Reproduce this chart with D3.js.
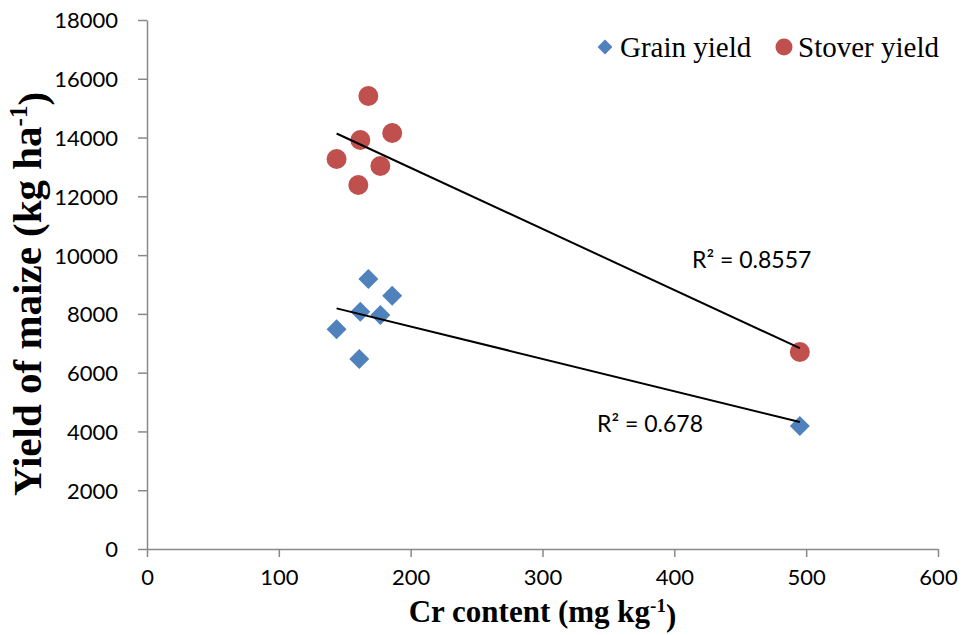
<!DOCTYPE html>
<html>
<head>
<meta charset="utf-8">
<script src="https://cdn.jsdelivr.net/npm/d3@7"></script>
<style>
  body { margin: 0; background: #fff; }
  .tick_lab { font-family: Lato, "Open Sans", sans-serif; font-size: 22px; fill: #000; }
  .ax_title { font-family: "Liberation Serif", "Times New Roman", serif; font-weight: bold; fill: #000; }
  .legend_txt { font-family: "Liberation Serif", "Times New Roman", serif; font-size: 29px; fill: #000; }
  .r2_txt { font-family: Lato, "Open Sans", sans-serif; font-size: 23px; fill: #000; }
</style>
</head>
<body>
<div id="chart"></div>
<script>

const SVG_W = 963;
const SVG_H = 635;

const M_LEFT = 147;
const M_RIGHT = 25;
const M_TOP = 20;
const M_BOTTOM = 86;

const COLOR_GRAIN = "#4F81BD";
const COLOR_STOVER = "#C0504D";
const COLOR_AXIS = "#898989";

// ---------------------------------------------------------------------------------

// Cr content (mg kg-1) per sample
const cr_grain  = [143.8, 161.8, 167.9, 186.0, 177.0, 161.0, 495.2];
const grain_yield = [7475, 8075, 9187, 8619, 7962, 6465, 4185];

const cr_stover = [143.8, 161.8, 167.9, 186.0, 177.0, 160.3, 495.2];
const stover_yield = [13270, 13916, 15413, 14155, 13032, 12385, 6703];

const x_ticks = [0, 100, 200, 300, 400, 500, 600];
const y_ticks = [0, 2000, 4000, 6000, 8000, 10000, 12000, 14000, 16000, 18000];

const r2_labels = ["R² = 0.678", "R² = 0.8557"];

// ---------------------------------------------------------------------------------

let svg = d3.select("#chart")
            .append("svg")
                .attr("width", SVG_W)
                .attr("height", SVG_H);

let scaleX = d3.scaleLinear()
                .domain([0, 600])
                .range([M_LEFT, SVG_W - M_RIGHT]);

let scaleY = d3.scaleLinear()
                .domain([0, 18000])
                .range([SVG_H - M_BOTTOM, M_TOP]);

// ---------------------------------------------------------------------------------
// axes

let axis_x = svg.append("g")
        .attr("transform", "translate(0," + scaleY(0) + ")")
        .call(d3.axisBottom(scaleX).tickValues(x_ticks).tickSize(8).tickSizeOuter(0).tickPadding(12));

let axis_y = svg.append("g")
        .attr("transform", "translate(" + scaleX(0) + ",0)")
        .call(d3.axisLeft(scaleY).tickValues(y_ticks).tickSize(9).tickSizeOuter(0).tickPadding(20)
                .tickFormat(d => d));

[axis_x, axis_y].forEach(function (g) {
    g.select(".domain").attr("stroke", COLOR_AXIS).attr("stroke-width", 1.5);
    g.selectAll(".tick line").attr("stroke", COLOR_AXIS).attr("stroke-width", 1.5);
    g.selectAll(".tick text").attr("class", "tick_lab").attr("fill", "#000");
});

axis_y.selectAll(".tick text").attr("dy", "0.36em");

// ---------------------------------------------------------------------------------
// axis titles

let title_x = svg.append("text")
        .attr("class", "ax_title")
        .attr("x", (scaleX(0) + scaleX(600)) / 2)
        .attr("y", 622)
        .attr("text-anchor", "middle")
        .style("font-size", "31px");
title_x.append("tspan").text("Cr content (mg kg");
title_x.append("tspan").attr("dy", "-0.55em").style("font-size", "19px").text("-1");
title_x.append("tspan").attr("dy", "0.45em").text(")");

let title_y = svg.append("text")
        .attr("class", "ax_title")
        .attr("transform", "translate(41,294) rotate(-90)")
        .attr("text-anchor", "middle")
        .style("font-size", "41px");
title_y.append("tspan").text("Yield of maize (kg ha");
title_y.append("tspan").attr("dy", "-0.55em").style("font-size", "25px").text("-1");
title_y.append("tspan").attr("dy", "0.45em").text(")");

// ---------------------------------------------------------------------------------
// trend lines (least squares fit)

function fit(xs, ys) {
    let mx = d3.mean(xs), my = d3.mean(ys);
    let sxy = d3.sum(xs, (x, i) => (x - mx) * (ys[i] - my));
    let sxx = d3.sum(xs, x => (x - mx) * (x - mx));
    let b = sxy / sxx;
    return { a: my - b * mx, b: b };
}

function draw_trend(xs, ys) {
    let f = fit(xs, ys);
    let x0 = d3.min(xs), x1 = d3.max(xs);
    svg.append("line")
            .attr("x1", scaleX(x0))
            .attr("y1", scaleY(f.a + f.b * x0))
            .attr("x2", scaleX(x1))
            .attr("y2", scaleY(f.a + f.b * x1))
            .attr("stroke", "#000")
            .attr("stroke-width", 2);
}

// ---------------------------------------------------------------------------------
// points

let diamond = d3.symbol().type(d3.symbolSquare).size(200);

svg.append("g")
    .selectAll("path")
    .data(cr_grain.map((x, i) => [x, grain_yield[i]]))
    .join("path")
        .attr("d", diamond)
        .attr("transform", d => "translate(" + scaleX(d[0]) + "," + scaleY(d[1]) + ") rotate(45)")
        .attr("fill", COLOR_GRAIN);

svg.append("g")
    .selectAll("circle")
    .data(cr_stover.map((x, i) => [x, stover_yield[i]]))
    .join("circle")
        .attr("cx", d => scaleX(d[0]))
        .attr("cy", d => scaleY(d[1]))
        .attr("r", 10)
        .attr("fill", COLOR_STOVER);

draw_trend(cr_grain, grain_yield);
draw_trend(cr_stover, stover_yield);

// ---------------------------------------------------------------------------------
// R² labels

svg.append("text")
        .attr("class", "r2_txt")
        .attr("x", 597)
        .attr("y", 432)
        .text(r2_labels[0]);

svg.append("text")
        .attr("class", "r2_txt")
        .attr("x", 692)
        .attr("y", 268)
        .text(r2_labels[1]);

// ---------------------------------------------------------------------------------
// legend

svg.append("path")
        .attr("d", d3.symbol().type(d3.symbolSquare).size(110))
        .attr("transform", "translate(605,47) rotate(45)")
        .attr("fill", COLOR_GRAIN);

svg.append("text")
        .attr("class", "legend_txt")
        .attr("x", 620)
        .attr("y", 57)
        .text("Grain yield");

svg.append("circle")
        .attr("cx", 784)
        .attr("cy", 47)
        .attr("r", 8.5)
        .attr("fill", COLOR_STOVER);

svg.append("text")
        .attr("class", "legend_txt")
        .attr("x", 798)
        .attr("y", 57)
        .text("Stover yield");

</script>
</body>
</html>
